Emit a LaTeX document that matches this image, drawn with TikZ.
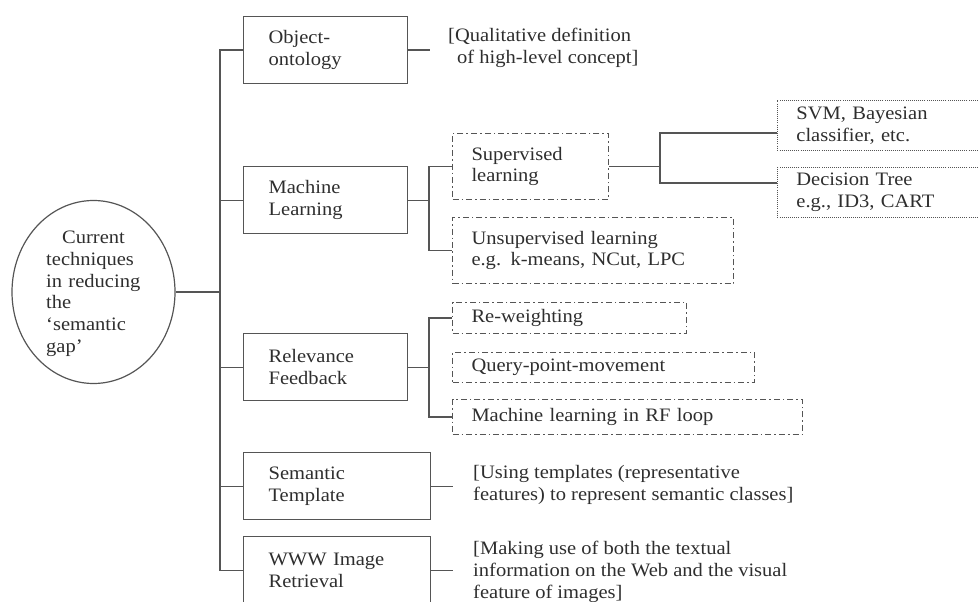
\documentclass[tikz,border=0pt]{standalone}
\usepackage{fontspec}
\setmainfont{Liberation Serif}[FakeStretch=1.08]
\usetikzlibrary{shapes.geometric}
\definecolor{ln}{HTML}{555555}
\definecolor{txt}{HTML}{2E2E2E}
\tikzset{
  every node/.style={font=\fontsize{19}{21.7}\selectfont, text=txt},
  conn/.style={draw=ln, line width=1.2pt},
  mainbox/.style={draw=ln, line width=1.2pt, rectangle, anchor=north west,
    inner xsep=25pt, inner ysep=0pt, text width=#1, minimum height=67pt, align=left},
  subbox/.style 2 args={draw=ln, line width=1pt,
    dash pattern=on 6pt off 3pt on 1.6pt off 3pt, rectangle, anchor=north west,
    inner xsep=19pt, inner ysep=0pt, text width=#1, minimum height=#2, align=left},
  leafbox/.style={draw=ln, line width=0.8pt, dash pattern=on 1pt off 1.1pt,
    rectangle, anchor=north west, inner xsep=19pt, inner ysep=0pt,
    text width=200pt, minimum height=50pt, align=left},
  note/.style={anchor=west, inner sep=0pt, align=left},
}
\begin{document}
\begin{tikzpicture}[x=1pt, y=-1pt]
\useasboundingbox (0,0) rectangle (978,602);
\clip (0,0) rectangle (978,602);

% root
\node[ellipse, draw=ln, line width=1.2pt, minimum width=163pt, minimum height=183pt,
      inner sep=0pt] (root) at (93.5,292) {};
\node[anchor=north west, inner sep=0pt, align=left, text width=110pt] (roottext) at (46,231)
  {\hspace*{16pt}Current\\techniques\\in reducing\\the\\`semantic\\gap'};

% main categories
\node[mainbox=114pt] (obj) at (243,16)  {Object-\\ontology};
\node[mainbox=114pt] (ml)  at (243,166) {Machine\\Learning};
\node[mainbox=114pt] (rf)  at (243,333) {Relevance\\Feedback};
\node[mainbox=137pt] (st)  at (243,452) {Semantic\\Template};
\node[mainbox=137pt] (www) at (243,536) {WWW Image\\Retrieval};

% trunk
\coordinate (tk) at (220,0);
\draw[conn] (root.east) -- (root.east -| tk);
\draw[conn] (obj.west) -- (obj.west -| tk) -- (www.west -| tk) -- (www.west);
\draw[conn] (ml.west -| tk) -- (ml.west);
\draw[conn] (rf.west -| tk) -- (rf.west);
\draw[conn] (st.west -| tk) -- (st.west);

% notes
\node[note] (objnote) at (448,48)
  {[Qualitative definition\\\hspace*{9pt}of high-level concept]};
\node[note] (stnote) at (473,485)
  {[Using templates (representative\\features) to represent semantic classes]};
\node[note] (wwwnote) at (473,572)
  {[Making use of both the textual\\information on the Web and the visual\\feature of images]};
\coordinate (objend) at (430,0);
\coordinate (noteend) at (453,0);
\draw[conn] (obj.east) -- (obj.east -| objend);
\draw[conn] (st.east) -- (st.east -| noteend);
\draw[conn] (www.east) -- (www.east -| noteend);

% machine learning
\node[subbox={118pt}{66pt}] (sup)   at (452,133) {Supervised\\learning};
\node[subbox={243pt}{66pt}] (unsup) at (452,217) {Unsupervised learning\\e.g. k-means, NCut, LPC};
\coordinate (b1) at (429,0);
\draw[conn] (ml.east) -- (ml.east -| b1);
\draw[conn] (sup.west) -- (sup.west -| b1) |- (unsup.west);

\node[leafbox] (svm) at (777,100) {SVM, Bayesian\\classifier, etc.};
\node[leafbox] (dt)  at (777,167) {Decision Tree\\e.g., ID3, CART};
\coordinate (svmin) at (660,133);
\coordinate (dtin)  at (660,183);
\draw[conn] (sup.east) -- (sup.east -| svmin);
\draw[conn] (svm.west |- svmin) -- (svmin) -- (dtin) -- (dt.west |- dtin);

% relevance feedback
\node[subbox={196pt}{31pt}] (rw)   at (452,302) {Re-weighting};
\node[subbox={264pt}{30pt}] (qpm)  at (452,352) {Query-point-movement};
\node[subbox={312pt}{35pt}] (mlrf) at (452,399) {Machine learning in RF loop};
\draw[conn] (rf.east) -- (rf.east -| b1);
\draw[conn] (rw.west) -- (rw.west -| b1) |- (mlrf.west);
\end{tikzpicture}
\end{document}
